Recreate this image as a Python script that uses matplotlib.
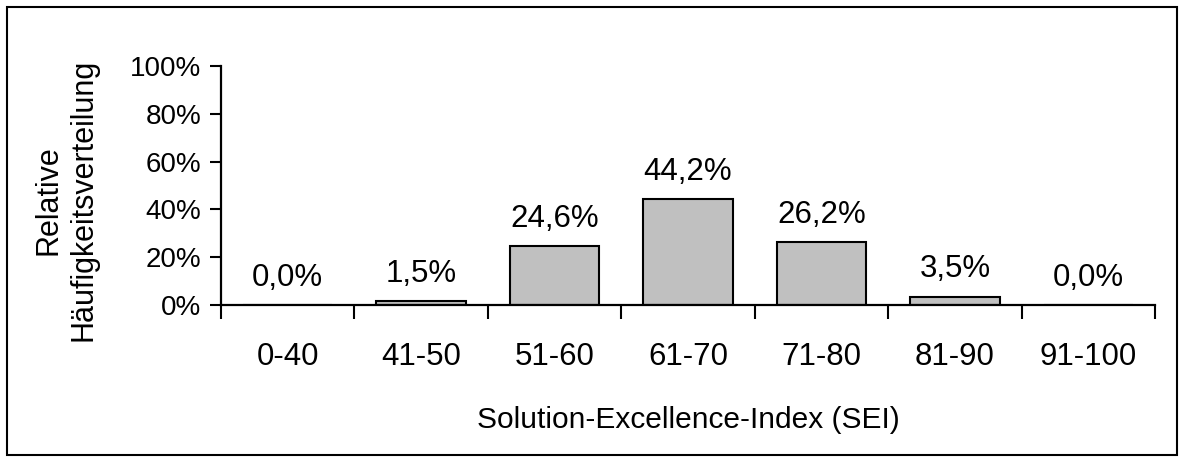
import numpy as np
import matplotlib.pyplot as plt
from matplotlib.patches import Rectangle

plt.rcParams['font.family'] = ['Liberation Sans', 'DejaVu Sans']

# Data
categories = ['0-40', '41-50', '51-60', '61-70', '71-80', '81-90', '91-100']
values = [0.0, 1.5, 24.6, 44.2, 26.2, 3.5, 0.0]
value_labels = ['0,0%', '1,5%', '24,6%', '44,2%', '26,2%', '3,5%', '0,0%']
y_ticks = [0, 20, 40, 60, 80, 100]

fig = plt.figure(figsize=(11.84, 4.63), dpi=100)
ax = fig.add_axes([0.1867, 0.3413, 0.7888, 0.5162])

x = np.arange(len(categories))
ax.bar(x, values, width=0.67, color='#C0C0C0', edgecolor='black', linewidth=1.5)

# value labels above bars
for xi, v, lab in zip(x, values, value_labels):
    ax.annotate(lab, (xi, v), xytext=(0, 14), textcoords='offset points',
                ha='center', va='baseline', fontsize=22.5)

ax.set_xlim(-0.5, len(categories) - 0.5)
ax.set_ylim(0, 100)
ax.set_yticks(y_ticks)
ax.set_yticklabels([f'{t}%' for t in y_ticks], fontsize=20)

# category labels centered, tick marks at boundaries
ax.set_xticks(x)
ax.set_xticklabels(categories, fontsize=22.5)
ax.tick_params(axis='x', which='major', length=0, pad=27)
ax.set_xticks(np.arange(-0.5, len(categories)), minor=True)
ax.tick_params(axis='x', which='minor', length=10, width=1.5, direction='out')
ax.tick_params(axis='y', length=8, width=1.5, direction='out', pad=6)

for s in ['top', 'right']:
    ax.spines[s].set_visible(False)
for s in ['left', 'bottom']:
    ax.spines[s].set_linewidth(1.6)

ax.set_xlabel('Solution-Excellence-Index (SEI)', fontsize=21.5, labelpad=24)
ax.set_ylabel('Relative\nHäufigkeitsverteilung', fontsize=22)
ax.yaxis.set_label_coords(-0.1317, 0.44)

# outer frame
fig.patches.append(Rectangle((0.006, 0.017), 0.988, 0.968, transform=fig.transFigure,
                             fill=False, edgecolor='black', linewidth=1.5))

fig.savefig('out.png', dpi=100)
